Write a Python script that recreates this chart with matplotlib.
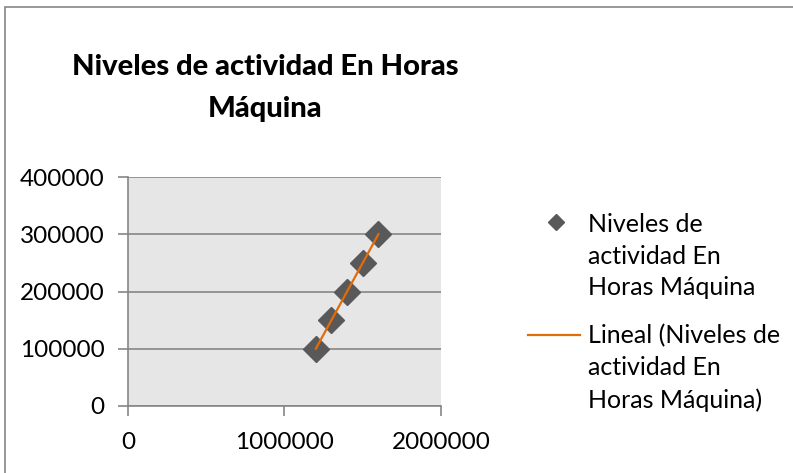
import numpy as np
import matplotlib as mpl
import matplotlib.pyplot as plt
from matplotlib.lines import Line2D
from matplotlib.patches import Rectangle

mpl.rcParams['font.family'] = ['Lato', 'DejaVu Sans']

# data
horas_maquina = [1200000, 1300000, 1400000, 1500000, 1600000]
niveles = [100000, 150000, 200000, 250000, 300000]
x_ticks = [0, 1000000, 2000000]
y_ticks = [0, 100000, 200000, 300000, 400000]
titulo = 'Niveles de actividad En Horas\nMáquina'
serie = 'Niveles de\nactividad En\nHoras Máquina'
tendencia = 'Lineal (Niveles de\nactividad En\nHoras Máquina)'

grid_col = '#868686'
marker_col = '#595959'
trend_col = '#E36C09'

fig = plt.figure(figsize=(7.93, 4.73), dpi=100)
W, H = 793, 473

# chart border (only top and left visible)
fig.add_artist(Rectangle((5 / W, -0.1), 1.2, 1 - 7 / H + 0.1, transform=fig.transFigure,
                         fill=False, edgecolor=grid_col, lw=1.2))

ax = fig.add_axes([128 / W, 1 - 406 / H, 313 / W, 229 / H])
ax.set_facecolor('#e6e6e6')
ax.set_xlim(0, 2000000)
ax.set_ylim(0, 400000)
ax.set_xticks(x_ticks)
ax.set_yticks(y_ticks)
ax.set_xticklabels([str(v) for v in x_ticks])
ax.set_yticklabels([str(v) for v in y_ticks])
ax.tick_params(labelsize=17.5, colors=grid_col, labelcolor='black', length=7, width=1.2)
ax.tick_params(axis='x', pad=12)
ax.tick_params(axis='y', pad=10)
for s in ['top', 'right']:
    ax.spines[s].set_visible(False)
for s in ['left', 'bottom']:
    ax.spines[s].set_color(grid_col)
    ax.spines[s].set_linewidth(1.2)
ax.grid(axis='y', color=grid_col, lw=1.2)
ax.set_axisbelow(True)

ax.plot(horas_maquina, niveles, ls='none', marker='D', ms=13, color=marker_col,
        mec=marker_col, zorder=3)
m, b = np.polyfit(horas_maquina, niveles, 1)
xs = np.array([min(horas_maquina), max(horas_maquina)])
ax.plot(xs, m * xs + b, color=trend_col, lw=1.6, zorder=4)

fig.text(265 / W, 1 - 88 / H, titulo, ha='center', va='center', fontsize=21,
         fontweight=900, linespacing=1.8)

# legend drawn by hand to mimic the Excel layout
fig.add_artist(Line2D([556 / W], [1 - 222 / H], marker='D', ms=8, color=marker_col,
                      transform=fig.transFigure))
fig.text(588 / W, 1 - 256 / H, serie, ha='left', va='center', fontsize=18, linespacing=1.45)
fig.add_artist(Line2D([528 / W, 580 / W], [1 - 335 / H] * 2, color=trend_col, lw=1.6,
                      transform=fig.transFigure))
fig.text(588 / W, 1 - 368 / H, tendencia, ha='left', va='center', fontsize=18, linespacing=1.45)

fig.savefig('out.png', dpi=100)
